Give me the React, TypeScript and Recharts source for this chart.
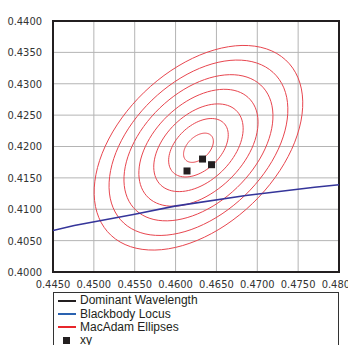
import { ComposedChart, Scatter, XAxis, YAxis, CartesianGrid, ReferenceArea } from 'recharts'

const xTicks = [0.445, 0.45, 0.455, 0.46, 0.465, 0.47, 0.475, 0.48]
const yTicks = [0.4, 0.405, 0.41, 0.415, 0.42, 0.425, 0.43, 0.435, 0.44]

// Planckian (blackbody) locus
const locusX = [0.445, 0.4476, 0.455, 0.4599, 0.4686, 0.477, 0.48]
const locusY = [0.4066, 0.4074, 0.4092, 0.4105, 0.4122, 0.4135, 0.4139]

// MacAdam ellipse: centre, semi-axes and tilt of the 1-step ellipse, drawn for 1..7 steps
const ellipseCenter = [0.4628, 0.4198]
const ellipseAxes = [0.00255, 0.0015]
const ellipseTilt = 59.8
const ellipseSteps = [1, 2, 3, 4, 5, 6, 7]

// measured chromaticities
const sampleX = [0.4633, 0.4644, 0.4614]
const sampleY = [0.418, 0.4171, 0.4161]

const locus = locusX.map((x, i) => ({ x, y: locusY[i] }))
const samples = sampleX.map((x, i) => ({ x, y: sampleY[i] }))

function ellipsePoints(step: number) {
  const th = (ellipseTilt * Math.PI) / 180
  const pts = []
  for (let deg = 0; deg <= 360; deg += 4) {
    const t = (deg * Math.PI) / 180
    const a = ellipseAxes[0] * step * Math.cos(t)
    const b = ellipseAxes[1] * step * Math.sin(t)
    pts.push({
      x: ellipseCenter[0] + a * Math.cos(th) - b * Math.sin(th),
      y: ellipseCenter[1] + a * Math.sin(th) + b * Math.cos(th),
    })
  }
  return pts
}

const tickFont = { fill: '#333', fontSize: 11, fontFamily: "'Liberation Sans Narrow', 'DejaVu Sans Condensed', sans-serif" }

const legendItems = [
  { name: 'Dominant Wavelength', color: '#231f20', kind: 'line' },
  { name: 'Blackbody Locus', color: '#2a62b0', kind: 'line' },
  { name: 'MacAdam Ellipses', color: '#e8262b', kind: 'line' },
  { name: 'xy', color: '#231f20', kind: 'square' },
]

const Square = (p: any) => <rect x={p.cx - 3.5} y={p.cy - 3.5} width={7} height={7} fill="#231f20" />
const NoDot = () => <g />

export default function App() {
  return (
    <div style={{ position: 'absolute', left: 0, top: 0, width: 348, height: 345, overflow: 'hidden', background: '#fff' }}>
      <ComposedChart width={348} height={345} margin={{ top: 21, right: 9, bottom: 53, left: 0 }}>
        <CartesianGrid stroke="#b4b4b4" horizontalValues={yTicks} verticalValues={xTicks} />
        <XAxis
          type="number"
          dataKey="x"
          domain={[0.445, 0.48]}
          ticks={xTicks}
          tickFormatter={v => v.toFixed(4)}
          tick={tickFont}
          tickLine={false}
          axisLine={false}
          tickSize={3}
          tickMargin={5}
          height={20}
          interval={0}
          allowDataOverflow
        />
        <YAxis
          type="number"
          dataKey="y"
          domain={[0.4, 0.44]}
          ticks={yTicks}
          tickFormatter={v => v.toFixed(4)}
          tick={tickFont}
          tickLine={false}
          axisLine={false}
          width={53}
          tickSize={6}
          tickMargin={5}
          interval={0}
          allowDataOverflow
        />
        {ellipseSteps.map(s => (
          <Scatter
            key={s}
            data={ellipsePoints(s)}
            line={{ stroke: '#e8464f', strokeWidth: 1 }}
            lineType="joint"
            shape={NoDot}
            isAnimationActive={false}
          />
        ))}
        <Scatter
          data={locus}
          line={{ stroke: '#35359a', strokeWidth: 1.6 }}
          lineType="joint"
          shape={NoDot}
          isAnimationActive={false}
        />
        <Scatter data={samples} shape={Square} isAnimationActive={false} />
        <ReferenceArea x1={0.445} x2={0.48} y1={0.4} y2={0.44} fill="none" stroke="#231f20" strokeWidth={2} ifOverflow="visible" />
      </ComposedChart>
      <div
        style={{
          position: 'absolute',
          left: 53,
          top: 292,
          width: 286,
          height: 70,
          border: '1px solid #333',
          fontFamily: "'Liberation Sans', Arial, sans-serif",
          fontSize: 12,
          lineHeight: '13px',
          color: '#231f20',
          paddingTop: 1,
          boxSizing: 'border-box',
        }}
      >
        {legendItems.map(it => (
          <div key={it.name} style={{ display: 'flex', alignItems: 'center', height: 13.4 }}>
            {it.kind === 'line' ? (
              <span style={{ display: 'inline-block', width: 18, height: 2, background: it.color, marginLeft: 4, marginRight: 4 }} />
            ) : (
              <span style={{ display: 'inline-block', width: 7, height: 7, background: it.color, marginLeft: 9, marginRight: 10 }} />
            )}
            <span>{it.name}</span>
          </div>
        ))}
      </div>
    </div>
  )
}
